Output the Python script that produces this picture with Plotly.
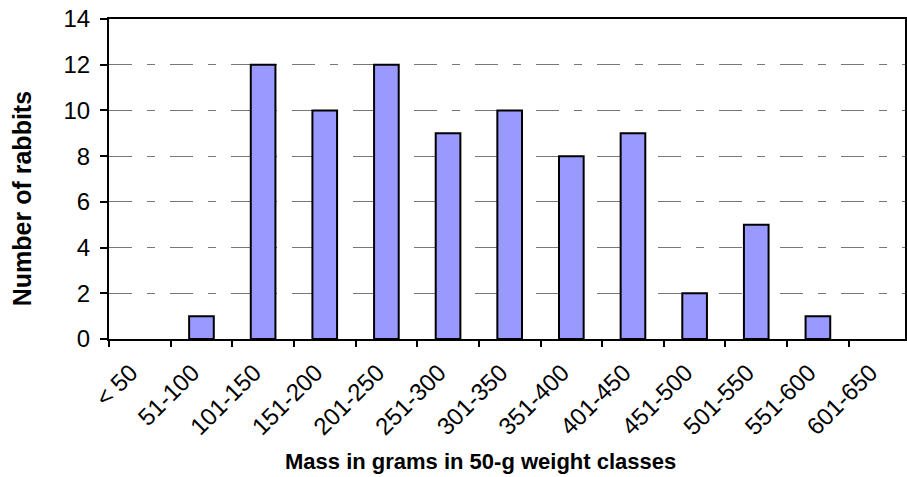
import plotly.graph_objects as go

categories = ["< 50", "51-100", "101-150", "151-200", "201-250", "251-300", "301-350",
              "351-400", "401-450", "451-500", "501-550", "551-600", "601-650"]
counts = [0, 1, 12, 10, 12, 9, 10, 8, 9, 2, 5, 1, 0]
y_ticks = [0, 2, 4, 6, 8, 10, 12, 14]

FONT = "Arial, 'Liberation Sans', sans-serif"

fig = go.Figure()
fig.add_trace(go.Bar(
    x=categories, y=counts,
    marker=dict(color="#9999FF",
                line=dict(color="black", width=[2 if c > 0 else 0 for c in counts])),
))

fig.update_layout(
    width=907, height=477,
    margin=dict(l=109, r=0, t=19, b=138),
    paper_bgcolor="white", plot_bgcolor="white",
    bargap=0.6, showlegend=False,
    font=dict(family=FONT, size=21, color="black"),
    xaxis=dict(
        type="category", range=[-0.5, 12.413],
        tickangle=-45, tickson="boundaries", ticks="outside", ticklen=6,
        tickcolor="black", tickwidth=1.5,
        ticklabelshift=-9, ticklabelstandoff=8,
        showline=True, linecolor="black", linewidth=2, mirror=True,
        showgrid=False, tickfont=dict(size=24),
    ),
    yaxis=dict(
        range=[0, 14], tickvals=y_ticks, ticks="outside", ticklen=7,
        tickcolor="black", tickwidth=1.5, ticklabelstandoff=5,
        showline=True, linecolor="black", linewidth=2, mirror=True,
        showgrid=True, gridcolor="#777777", gridwidth=1,
        griddash="23px,15px,8px,15px", zeroline=False,
        tickfont=dict(size=24),
    ),
    annotations=[
        dict(text="<b>Mass in grams in 50-g weight classes</b>", xref="paper", yref="paper",
             x=(481 - 109) / 798, y=-(461 - 339) / 320,
             xanchor="center", yanchor="middle", showarrow=False,
             font=dict(size=22, family=FONT)),
        dict(text="<b>Number of rabbits</b>", xref="paper", yref="paper",
             x=-(109 - 22) / 798, y=(339 - 199) / 320, textangle=-90,
             xanchor="center", yanchor="middle", showarrow=False,
             font=dict(size=25, family=FONT)),
    ],
)

fig.write_html("out.html")
